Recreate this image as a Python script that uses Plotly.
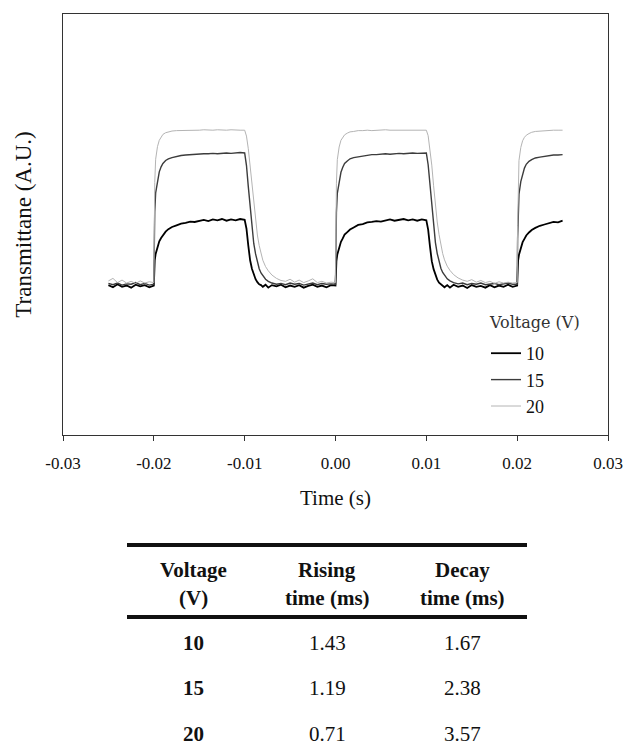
import plotly.graph_objects as go

# ---------------- data ----------------
time_s = [
    -0.0250, -0.0245, -0.0240, -0.0235, -0.0230, -0.0225, -0.0220, -0.0215, -0.0210, -0.0205, -0.0200,
    -0.01995, -0.0199, -0.0198, -0.0196, -0.0194, -0.0192, -0.0190, -0.0187, -0.0184, -0.0180,
    -0.0175, -0.0170, -0.0165, -0.0160, -0.0155, -0.0150, -0.0145, -0.0140, -0.0135, -0.0130,
    -0.0125, -0.0120, -0.0115, -0.0110, -0.0105, -0.0100,
    -0.0098, -0.0096, -0.0094, -0.0092, -0.0090, -0.0088, -0.0086, -0.0084, -0.0082, -0.0080,
    -0.0077, -0.0074, -0.0070, -0.0065, -0.0060, -0.0055, -0.0050, -0.0045, -0.0040, -0.0035,
    -0.0030, -0.0025, -0.0020, -0.0015, -0.0010, -0.0005, 0.0000,
    0.00005, 0.0001, 0.0002, 0.0004, 0.0006, 0.0008, 0.0010, 0.0013, 0.0016, 0.0020,
    0.0025, 0.0030, 0.0035, 0.0040, 0.0045, 0.0050, 0.0055, 0.0060, 0.0065, 0.0070,
    0.0075, 0.0080, 0.0085, 0.0090, 0.0095, 0.0100,
    0.0102, 0.0104, 0.0106, 0.0108, 0.0110, 0.0112, 0.0114, 0.0116, 0.0118, 0.0120,
    0.0123, 0.0126, 0.0130, 0.0135, 0.0140, 0.0145, 0.0150, 0.0155, 0.0160, 0.0165,
    0.0170, 0.0175, 0.0180, 0.0185, 0.0190, 0.0195, 0.0200,
    0.02005, 0.0201, 0.0202, 0.0204, 0.0206, 0.0208, 0.0210, 0.0213, 0.0216, 0.0220,
    0.0225, 0.0230, 0.0235, 0.0240, 0.0245, 0.0250,
]

trans_10v = [
    0.356, 0.351, 0.358, 0.352, 0.355, 0.350, 0.357, 0.353, 0.356, 0.351, 0.355,
    0.395, 0.415, 0.430, 0.448, 0.460, 0.468, 0.475, 0.483, 0.489, 0.494,
    0.498, 0.502, 0.504, 0.507, 0.506, 0.509, 0.511, 0.508, 0.512, 0.510,
    0.513, 0.509, 0.512, 0.510, 0.513, 0.511,
    0.490, 0.450, 0.415, 0.395, 0.380, 0.370, 0.363, 0.358, 0.356, 0.352,
    0.357, 0.350, 0.356, 0.353, 0.357, 0.351, 0.355, 0.352, 0.356, 0.350,
    0.354, 0.357, 0.352, 0.355, 0.351, 0.356, 0.355,
    0.395, 0.413, 0.429, 0.447, 0.459, 0.467, 0.476, 0.482, 0.488, 0.493,
    0.499, 0.501, 0.505, 0.506, 0.508, 0.507, 0.510, 0.512, 0.509, 0.511,
    0.513, 0.510, 0.512, 0.509, 0.512, 0.510,
    0.488, 0.448, 0.413, 0.394, 0.379, 0.369, 0.362, 0.358, 0.355, 0.351,
    0.356, 0.350, 0.357, 0.352, 0.355, 0.349, 0.356, 0.352, 0.354, 0.350,
    0.356, 0.351, 0.355, 0.352, 0.357, 0.352, 0.355,
    0.393, 0.414, 0.428, 0.446, 0.458, 0.466, 0.474, 0.481, 0.487, 0.492,
    0.497, 0.500, 0.503, 0.506, 0.505, 0.509,
]

trans_15v = [
    0.360, 0.357, 0.361, 0.356, 0.359, 0.358, 0.362, 0.357, 0.360, 0.356, 0.358,
    0.470, 0.530, 0.575, 0.605, 0.625, 0.637, 0.645, 0.652, 0.656, 0.659,
    0.662, 0.664, 0.665, 0.666, 0.667, 0.667, 0.668, 0.668, 0.669, 0.668,
    0.669, 0.670, 0.669, 0.670, 0.671, 0.670,
    0.640, 0.590, 0.540, 0.490, 0.455, 0.430, 0.410, 0.395, 0.385, 0.378,
    0.370, 0.365, 0.361, 0.358, 0.360, 0.357, 0.361, 0.358, 0.360, 0.356,
    0.359, 0.361, 0.357, 0.360, 0.358, 0.359, 0.358,
    0.468, 0.528, 0.574, 0.604, 0.624, 0.636, 0.645, 0.651, 0.656, 0.659,
    0.661, 0.663, 0.665, 0.666, 0.666, 0.667, 0.668, 0.667, 0.668, 0.669,
    0.668, 0.669, 0.670, 0.669, 0.670, 0.670,
    0.642, 0.592, 0.542, 0.492, 0.457, 0.431, 0.411, 0.396, 0.386, 0.379,
    0.371, 0.366, 0.362, 0.359, 0.361, 0.357, 0.360, 0.358, 0.361, 0.357,
    0.359, 0.360, 0.357, 0.359, 0.361, 0.358, 0.358,
    0.466, 0.527, 0.572, 0.602, 0.622, 0.634, 0.643, 0.650, 0.654, 0.658,
    0.660, 0.662, 0.664, 0.665, 0.665, 0.666,
]

trans_20v = [
    0.366, 0.372, 0.362, 0.368, 0.361, 0.365, 0.360, 0.366, 0.361, 0.364, 0.362,
    0.500, 0.600, 0.655, 0.685, 0.700, 0.708, 0.714, 0.718, 0.720, 0.722,
    0.723, 0.723, 0.724, 0.724, 0.723, 0.724, 0.725, 0.724, 0.724, 0.725,
    0.724, 0.724, 0.725, 0.724, 0.724, 0.724,
    0.710, 0.680, 0.640, 0.590, 0.545, 0.505, 0.475, 0.450, 0.430, 0.415,
    0.400, 0.390, 0.380, 0.372, 0.367, 0.365, 0.370, 0.363, 0.368, 0.362,
    0.366, 0.371, 0.362, 0.365, 0.361, 0.363, 0.362,
    0.498, 0.598, 0.654, 0.684, 0.700, 0.708, 0.713, 0.717, 0.720, 0.721,
    0.723, 0.723, 0.724, 0.723, 0.724, 0.724, 0.725, 0.724, 0.724, 0.724,
    0.725, 0.724, 0.724, 0.725, 0.724, 0.724,
    0.711, 0.681, 0.641, 0.592, 0.546, 0.506, 0.476, 0.451, 0.431, 0.416,
    0.401, 0.391, 0.381, 0.373, 0.368, 0.365, 0.369, 0.363, 0.367, 0.362,
    0.365, 0.360, 0.364, 0.361, 0.363, 0.361, 0.362,
    0.497, 0.597, 0.652, 0.683, 0.699, 0.707, 0.712, 0.716, 0.719, 0.721,
    0.722, 0.723, 0.723, 0.724, 0.724, 0.724,
]

series_names = ["10", "15", "20"]
legend_title = "Voltage (V)"
x_tick_vals = [-0.03, -0.02, -0.01, 0.00, 0.01, 0.02, 0.03]
x_tick_text = ["-0.03", "-0.02", "-0.01", "0.00", "0.01", "0.02", "0.03"]

table_header = [["Voltage", "(V)"], ["Rising", "time (ms)"], ["Decay", "time (ms)"]]
table_voltage = ["10", "15", "20"]
table_rising = ["1.43", "1.19", "0.71"]
table_decay = ["1.67", "2.38", "3.57"]

# ---------------- figure ----------------
for s in (trans_10v, trans_15v, trans_20v):
    assert len(s) == len(time_s), (len(s), len(time_s))

SERIF = "Liberation Serif, Times New Roman, serif"
W, H = 624, 752
L, R, T, B = 63, 608, 14, 435   # plot-area pixel box


def px_x(x):
    return (x - L) / (R - L)


def px_y(y):
    return (B - y) / (B - T)


fig = go.Figure()
styles = [("#000000", 1.8), ("#3c3c3c", 1.4), ("#b4b4b4", 1.0)]
for name, ys, (col, w) in zip(series_names, (trans_10v, trans_15v, trans_20v), styles):
    fig.add_trace(go.Scatter(x=time_s, y=ys, mode="lines", name=name,
                             line=dict(color=col, width=w)))

fig.update_layout(
    width=W, height=H,
    margin=dict(l=L, r=W - R, t=T, b=H - B, autoexpand=False),
    paper_bgcolor="white", plot_bgcolor="white",
    font=dict(family=SERIF, color="#111111"),
    showlegend=True,
    legend=dict(
        x=px_x(486), y=px_y(335), xanchor="left", yanchor="top",
        bgcolor="rgba(0,0,0,0)",
        font=dict(family=SERIF, size=18, color="#111111"),
        tracegroupgap=0,
    ),
)
# legend heading
fig.add_annotation(x=px_x(487), y=px_y(322), xref="paper", yref="paper",
                   text=legend_title, showarrow=False, xanchor="left", yanchor="middle",
                   font=dict(family="DejaVu Serif, serif", size=16, color="#333333"))

fig.update_xaxes(
    range=[-0.03, 0.03], tickmode="array", tickvals=x_tick_vals, ticktext=x_tick_text,
    ticks="outside", ticklen=5, tickwidth=1, tickcolor="#333333",
    showline=True, linecolor="#333333", linewidth=1, mirror=True,
    showgrid=False, zeroline=False, automargin=False,
    tickfont=dict(family=SERIF, size=17, color="#111111"),
    ticklabelstandoff=8,
    title=dict(text="Time (s)", font=dict(family=SERIF, size=21, color="#111111"), standoff=17),
)
fig.update_yaxes(
    range=[0, 1], showticklabels=False, ticks="",
    showline=True, linecolor="#333333", linewidth=1, mirror=True,
    showgrid=False, zeroline=False, automargin=False,
    title=dict(text="Transmittane (A.U.)", font=dict(family=SERIF, size=23, color="#111111"), standoff=23),
)

# ---------------- table below the chart ----------------
tbl_left, tbl_right = 127, 527
for yline in (545, 617):
    fig.add_shape(type="line", xref="paper", yref="paper",
                  x0=px_x(tbl_left), x1=px_x(tbl_right), y0=px_y(yline), y1=px_y(yline),
                  line=dict(color="#111111", width=4))

col_x = [193, 327, 462]
header_y = [570, 598]
row_y = [643, 688, 734]
for cx, lines in zip(col_x, table_header):
    for ly, txt in zip(header_y, lines):
        fig.add_annotation(x=px_x(cx), y=px_y(ly), xref="paper", yref="paper",
                           text=f"<b>{txt}</b>", showarrow=False,
                           xanchor="center", yanchor="middle",
                           font=dict(family=SERIF, size=21, color="#111111"))
for i, ry in enumerate(row_y):
    cells = [f"<b>{table_voltage[i]}</b>", table_rising[i], table_decay[i]]
    for cx, txt in zip(col_x, cells):
        fig.add_annotation(x=px_x(cx), y=px_y(ry), xref="paper", yref="paper",
                           text=txt, showarrow=False, xanchor="center", yanchor="middle",
                           font=dict(family=SERIF, size=21, color="#111111"))

fig.write_html("out.html")
